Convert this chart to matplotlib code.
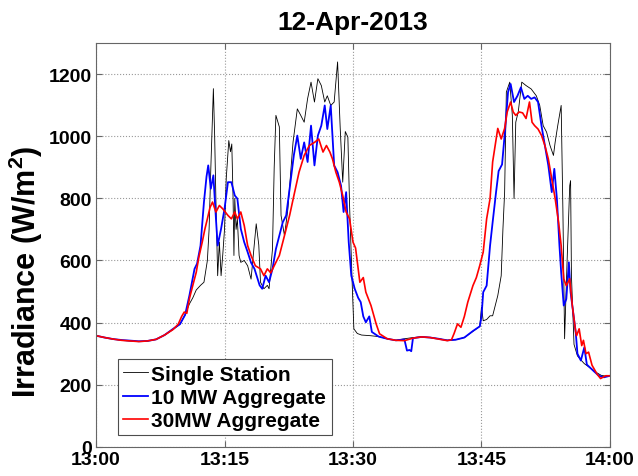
import matplotlib
matplotlib.use('Agg')
import matplotlib.pyplot as plt

plt.rcParams['font.family'] = ['Liberation Sans', 'DejaVu Sans']
plt.rcParams['mathtext.fontset'] = 'custom'
plt.rcParams['mathtext.bf'] = 'Liberation Sans:bold'
plt.rcParams['mathtext.rm'] = 'Liberation Sans:bold'
plt.rcParams['mathtext.default'] = 'bf'

# minutes after 13:00 and irradiance (W/m^2)
t_single = [0, 1, 2, 3, 4, 5, 6, 7, 8, 9, 9.8, 10.4, 10.9, 11.3, 11.7, 12.2, 12.6,
            13.0, 13.2, 13.4, 13.7, 13.85, 14.0, 14.2, 14.4, 14.6, 14.8, 15.0, 15.2,
            15.5, 15.7, 15.85, 16.0, 16.1, 16.2, 16.35, 16.5, 16.7, 16.9, 17.3, 17.7,
            18.1, 18.5, 18.7, 19.0, 19.2, 19.6, 20.0, 20.2, 20.6, 20.8, 21.0, 21.4,
            21.6, 22.0, 22.4, 23.0, 23.5, 23.9, 24.3, 24.7, 25.1, 25.5, 25.9, 26.3,
            26.7, 27.0, 27.4, 27.8, 28.2, 28.5, 28.8, 29.1, 29.4, 29.6, 29.9, 30.1,
            30.5, 31, 32, 33, 34, 35, 36, 37, 38, 39, 40, 41, 42, 43, 44, 44.8, 45.0,
            45.2, 45.6, 46.0, 46.3, 46.9, 47.3, 47.5, 47.7, 47.9, 48.3, 48.6, 48.8,
            49.0, 49.3, 49.7, 50.2, 50.8, 51.4, 51.8, 52.2, 52.6, 53.0, 53.4, 53.6,
            53.9, 54.3, 54.5, 54.7, 55.0, 55.3, 55.4, 55.5, 55.8, 56.2, 56.6, 57,
            57.5, 58, 58.5, 59, 59.5, 60]
single = [358, 352, 347, 343, 341, 339, 341, 346, 360, 378, 395, 425, 460, 480, 505, 520, 530,
          600, 700, 895, 1153, 1000, 788, 551, 659, 551, 620, 700, 863,
          986, 950, 975, 800, 616, 800, 700, 734, 616, 594, 600, 583,
          540, 659, 718, 650, 530, 509, 520, 509, 637, 900, 1067, 1030,
          745, 680, 766, 981, 1088, 1067, 1045, 1121, 1174, 1110, 1185, 1163,
          1110, 1130, 1099, 1110, 1239, 1030, 852, 1015, 997, 777, 530, 380,
          365, 360, 358, 355, 348, 343, 348, 352, 354, 352, 348, 343, 345, 352, 372, 388, 450,
          406, 410, 422, 422, 487, 551, 700, 820, 1142, 1174, 1067, 799,
          1045, 1080, 1174, 1163, 1152, 1130, 1099, 1034, 1013, 970, 938, 981,
          1034, 1099, 766, 348, 605, 841, 857, 551, 330, 293, 280, 268,
          258, 248, 238, 230, 228, 230]

t_10mw = [0, 1, 2, 3, 4, 5, 6, 7, 8, 9, 9.8, 10.4, 10.9, 11.5, 11.8, 12.2, 12.6, 12.9,
          13.1, 13.4, 13.7, 14.0, 14.2, 14.6, 15.0, 15.4, 15.8, 16.2, 16.5, 16.9, 17.3,
          17.7, 18.1, 18.5, 19.1, 19.4, 19.8, 20.2, 20.6, 21.0, 21.4, 21.8, 22.2, 22.6,
          23.1, 23.5, 23.9, 24.3, 24.7, 25.1, 25.5, 25.9, 26.3, 26.7, 27.0, 27.4, 27.8,
          28.2, 28.6, 28.9, 29.2, 29.5, 29.8, 30.2, 30.6, 30.9, 31.2, 31.5, 31.9, 32.2,
          33, 34, 35, 36, 36.3, 36.6, 36.8, 37.0, 38, 39, 40, 41, 42, 43, 44, 44.8, 45.0,
          45.2, 45.6, 46.0, 46.3, 46.7, 47.0, 47.4, 47.7, 48.1, 48.4, 48.8, 49.2, 49.6,
          50.0, 50.4, 50.8, 51.2, 51.6, 52.0, 52.4, 52.8, 53.2, 53.5, 53.8, 54.1, 54.3,
          54.6, 54.9, 55.2, 55.4, 55.7, 56.0, 56.2, 56.6, 57.0, 57.3, 58.1, 58.7, 59.3, 60]
mw10 = [358, 352, 347, 344, 342, 340, 341, 346, 360, 380, 395, 425, 487, 573, 590, 648, 788, 870,
        906, 831, 874, 734, 648, 702, 766, 852, 852, 809, 799, 702, 659,
        627, 593, 573, 520, 509, 551, 530, 573, 637, 680, 723, 745, 831,
        940, 1002, 927, 980, 917, 1034, 906, 1002, 1034, 1099, 1023, 1099, 906,
        884, 841, 756, 820, 659, 551, 509, 480, 466, 420, 401, 420, 370,
        355, 348, 343, 346, 310, 312, 308, 350, 354, 352, 348, 343, 345, 352, 373, 388, 420,
        498, 519, 648, 723, 820, 888, 909, 1003, 1142, 1168, 1110, 1130, 1157,
        1120, 1130, 1120, 1125, 1110, 1034, 970, 906, 820, 895, 799, 648, 562,
        455, 476, 594, 498, 433, 369, 300, 278, 320, 265, 244, 229, 224, 229]

t_30mw = [0, 1, 2, 3, 4, 5, 6, 7, 8, 9, 9.6, 10.0, 10.3, 10.6, 10.9, 11.3, 11.7, 12.0,
          12.4, 12.7, 13.0, 13.3, 13.6, 14.0, 14.4, 14.8, 15.4, 15.8, 16.2, 16.5, 16.9,
          17.3, 17.7, 18.1, 18.6, 19.2, 19.6, 20.0, 20.4, 20.8, 21.4, 22.0, 22.6, 23.1,
          23.7, 24.3, 24.9, 25.5, 26.0, 26.5, 26.9, 27.3, 27.6, 28.0, 28.4, 28.8, 29.2,
          29.6, 30.0, 30.3, 30.8, 31.2, 31.5, 32.1, 32.7, 33.1, 34, 35, 36, 37, 38, 39,
          40, 41, 41.5, 41.8, 42.2, 42.6, 43.0, 43.4, 44.0, 44.4, 44.8, 45.2, 45.6, 46.0,
          46.3, 46.9, 47.3, 47.7, 48.0, 48.4, 48.7, 49.0, 49.4, 49.8, 50.2, 50.6, 50.9,
          51.2, 51.6, 52.0, 52.4, 52.8, 53.2, 53.6, 54.0, 54.3, 54.6, 54.9, 55.3, 55.6,
          56.0, 56.1, 56.4, 56.7, 56.9, 57.2, 57.5, 57.9, 58.5, 58.9, 59.5, 60]
mw30 = [358, 352, 347, 343, 341, 339, 341, 346, 360, 378, 395, 420, 434, 430, 477, 520, 562, 610,
        659, 700, 734, 770, 788, 756, 777, 766, 745, 734, 756, 734, 756,
        713, 648, 616, 583, 573, 551, 573, 560, 583, 616, 680, 745, 809,
        884, 938, 970, 980, 991, 949, 970, 949, 927, 884, 852, 809, 756,
        734, 659, 640, 530, 545, 498, 455, 396, 364, 348, 343, 342, 350, 354, 352,
        347, 342, 345, 365, 396, 385, 420, 466, 519, 545, 584, 627, 734, 799,
        917, 1025, 991, 1025, 1078, 1110, 1078, 1067, 1078, 1075, 1057, 1110, 1045,
        1034, 1023, 1003, 970, 927, 863, 799, 723, 648, 541, 519, 541, 455,
        369, 358, 380, 326, 343, 300, 305, 263, 234, 220, 229, 229]

tick_pos = [0, 15, 30, 45, 60]
tick_labels = ['13:00', '13:15', '13:30', '13:45', '14:00']

fig = plt.figure(figsize=(6.38, 4.77), dpi=100)
ax = fig.add_axes([0.1505, 0.061, 0.8056, 0.8468])

ax.plot(t_single, single, color='k', lw=0.6, label='Single Station')
ax.plot(t_10mw, mw10, color='#0000ff', lw=1.3, label='10 MW Aggregate')
ax.plot(t_30mw, mw30, color='#ff0000', lw=1.2, label='30MW Aggregate')

ax.set_xlim(0, 60)
ax.set_ylim(0, 1300)
ax.set_xticks(tick_pos)
ax.set_xticklabels(tick_labels)
ax.set_yticks(range(0, 1201, 200))
ax.grid(True, linestyle=':', color='0.6', lw=0.8)
ax.tick_params(direction='in', top=True, right=True, length=4, color='0.4',
               labelsize=14, pad=3)
for lab in ax.get_xticklabels() + ax.get_yticklabels():
    lab.set_fontweight('bold')
for s in ax.spines.values():
    s.set_color('0.4')

ax.set_ylabel('Irradiance (W/m$^2$)', fontsize=22, fontweight='bold')
ax.yaxis.set_label_coords(-0.1, 0.435)
ax.set_title('12-Apr-2013', fontsize=19, fontweight='bold', pad=10)

leg = ax.legend(loc='lower left', bbox_to_anchor=(0.043, 0.029), fancybox=False,
                framealpha=1, edgecolor='0.3', prop={'weight': 'bold', 'size': 15},
                handlelength=1.2, handletextpad=0.15, labelspacing=0.2,
                borderpad=0.25, borderaxespad=0)
leg.get_frame().set_linewidth(0.8)

plt.savefig('out.png', dpi=100)
